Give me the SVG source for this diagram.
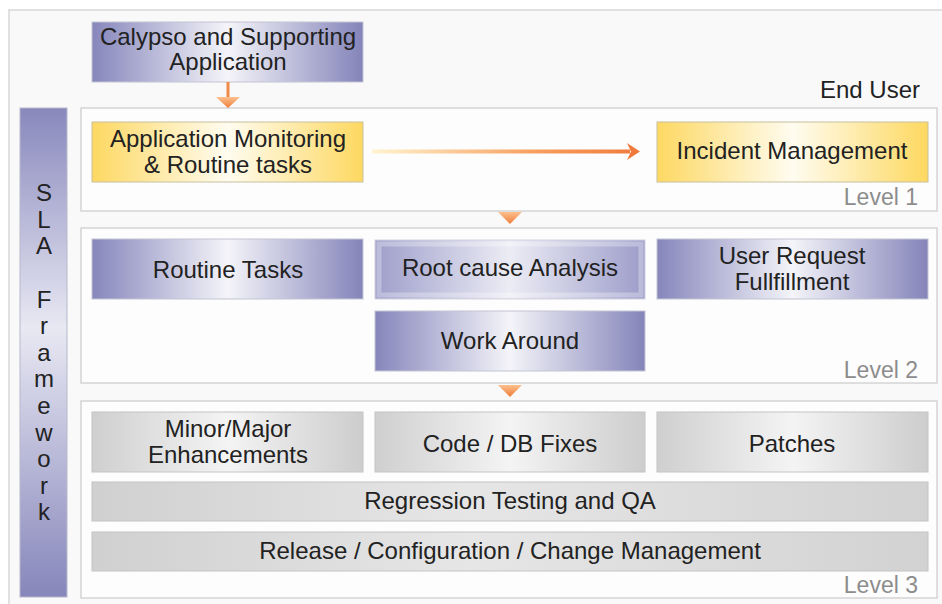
<svg xmlns="http://www.w3.org/2000/svg" width="942" height="604" viewBox="0 0 942 604">
<style>
.t{font-family:"Liberation Sans",Arial,sans-serif;font-size:24px;fill:#222;text-anchor:middle}
.lv{font-family:"Liberation Sans",Arial,sans-serif;font-size:23px;fill:#8c8c8c;text-anchor:end}
.panel{fill:#fdfdfd;stroke:#d4d4d4;stroke-width:1.5}
.pb{fill:url(#gPurple);stroke:#c4c4d4;stroke-width:1}
.yb{fill:url(#gYellow);stroke:#c8c0a0;stroke-width:1}
.gb{fill:url(#gGray);stroke:#c4c4c4;stroke-width:1}
.gb2{fill:url(#gGray2);stroke:#c4c4c4;stroke-width:1}
</style>
<defs>
<linearGradient id="gPurple" x1="0" y1="0" x2="1" y2="0">
<stop offset="0" stop-color="#8686bc"/>
<stop offset="0.5" stop-color="#f4f4f9"/>
<stop offset="1" stop-color="#8484ba"/>
</linearGradient>
<linearGradient id="gPurpleL" x1="0" y1="0" x2="1" y2="0">
<stop offset="0" stop-color="#9e9ecb"/>
<stop offset="0.5" stop-color="#ececf5"/>
<stop offset="1" stop-color="#9c9cca"/>
</linearGradient>
<linearGradient id="gYellow" x1="0" y1="0" x2="1" y2="0">
<stop offset="0" stop-color="#fdd862"/>
<stop offset="0.5" stop-color="#fffcf0"/>
<stop offset="1" stop-color="#fdd860"/>
</linearGradient>
<linearGradient id="gGray" x1="0" y1="0" x2="1" y2="0">
<stop offset="0" stop-color="#cfcfcf"/>
<stop offset="0.5" stop-color="#f4f4f4"/>
<stop offset="1" stop-color="#cdcdcd"/>
</linearGradient>
<linearGradient id="gGray2" x1="0" y1="0" x2="1" y2="0">
<stop offset="0" stop-color="#d0d0d0"/>
<stop offset="0.45" stop-color="#e6e6e6"/>
<stop offset="1" stop-color="#d2d2d2"/>
</linearGradient>
<linearGradient id="gSla" x1="0" y1="0" x2="0" y2="1">
<stop offset="0" stop-color="#8888bd"/>
<stop offset="0.45" stop-color="#e8e8f3"/>
<stop offset="1" stop-color="#8686bb"/>
</linearGradient>
<linearGradient id="gArrowH" x1="372" y1="0" x2="640" y2="0" gradientUnits="userSpaceOnUse">
<stop offset="0" stop-color="#fff4d0"/>
<stop offset="0.6" stop-color="#f7a060"/>
<stop offset="1" stop-color="#f07a3c"/>
</linearGradient>
<linearGradient id="gTri" x1="0" y1="0" x2="0" y2="1">
<stop offset="0" stop-color="#fcc08e"/>
<stop offset="1" stop-color="#f07c38"/>
</linearGradient>
</defs>

<rect x="9" y="10" width="940" height="600" fill="#f9f9f9" stroke="#d8d8d8" stroke-width="1.5"/>

<g id="panel-level1"><rect class="panel" x="81" y="108" width="856" height="103"/><text class="lv" x="918" y="205">Level 1</text></g>
<g id="panel-level2"><rect class="panel" x="81" y="228" width="856" height="155"/><text class="lv" x="918" y="378">Level 2</text></g>
<g id="panel-level3"><rect class="panel" x="81" y="401" width="856" height="197"/><text class="lv" x="918" y="593">Level 3</text></g>

<g id="end-user"><text class="t" x="920" y="98" style="text-anchor:end">End User</text></g>

<g id="sla-framework">
<rect x="20" y="108" width="47" height="489" fill="url(#gSla)" stroke="#b8b8cc" stroke-width="1"/>
<text class="t" x="44" y="201"><tspan x="44">S</tspan><tspan x="44" dy="26.5">L</tspan><tspan x="44" dy="26.5">A</tspan><tspan x="44" dy="53.5">F</tspan><tspan x="44" dy="26.6">r</tspan><tspan x="44" dy="26.6">a</tspan><tspan x="44" dy="26.6">m</tspan><tspan x="44" dy="26.6">e</tspan><tspan x="44" dy="26.6">w</tspan><tspan x="44" dy="26.6">o</tspan><tspan x="44" dy="26.6">r</tspan><tspan x="44" dy="26.6">k</tspan></text>
</g>

<g id="calypso"><rect class="pb" x="92" y="22" width="271" height="60"/><text class="t" x="228" y="45">Calypso and Supporting</text><text class="t" x="228" y="70">Application</text></g>

<g id="app-monitoring"><rect class="yb" x="92" y="122" width="271" height="60"/><text class="t" x="228" y="147">Application Monitoring</text><text class="t" x="228" y="173">&amp; Routine tasks</text></g>
<g id="incident-management"><rect class="yb" x="657" y="122" width="271" height="60"/><text class="t" x="792" y="159">Incident Management</text></g>

<g id="routine-tasks"><rect class="pb" x="92" y="239" width="271" height="60"/><text class="t" x="228" y="278">Routine Tasks</text></g>
<g id="root-cause"><rect x="375" y="240" width="270" height="59" fill="url(#gPurpleL)" stroke="#d4d4e0" stroke-width="1"/><rect x="379" y="244" width="262" height="51" fill="none" stroke="#ffffff" stroke-opacity="0.3" stroke-width="5"/><text class="t" x="510" y="276">Root cause Analysis</text></g>
<g id="user-request"><rect class="pb" x="657" y="239" width="271" height="60"/><text class="t" x="792" y="264">User Request</text><text class="t" x="792" y="290">Fullfillment</text></g>
<g id="work-around"><rect class="pb" x="375" y="311" width="270" height="60"/><text class="t" x="510" y="349">Work Around</text></g>

<g id="minor-major"><rect class="gb" x="92" y="412" width="271" height="60"/><text class="t" x="228" y="437">Minor/Major</text><text class="t" x="228" y="463">Enhancements</text></g>
<g id="code-db"><rect class="gb" x="375" y="412" width="270" height="60"/><text class="t" x="510" y="452">Code / DB Fixes</text></g>
<g id="patches"><rect class="gb" x="657" y="412" width="271" height="60"/><text class="t" x="792" y="452">Patches</text></g>
<g id="regression"><rect class="gb2" x="92" y="482" width="836" height="39"/><text class="t" x="510" y="509">Regression Testing and QA</text></g>
<g id="release"><rect class="gb2" x="92" y="532" width="836" height="39"/><text class="t" x="510" y="559">Release / Configuration / Change Management</text></g>

<g id="connectors">
<line x1="228" y1="82" x2="228" y2="98" stroke="#f08a48" stroke-width="3"/>
<polygon points="216,97 240,97 228,108" fill="url(#gTri)"/>
<rect x="372" y="149.5" width="258" height="4" fill="url(#gArrowH)"/>
<polygon points="627,143 640,151.5 627,160 631,151.5" fill="#f07a3c"/>
<polygon points="498,212 522,212 510,224" fill="url(#gTri)"/>
<polygon points="498,385 522,385 510,397" fill="url(#gTri)"/>
</g>
</svg>
